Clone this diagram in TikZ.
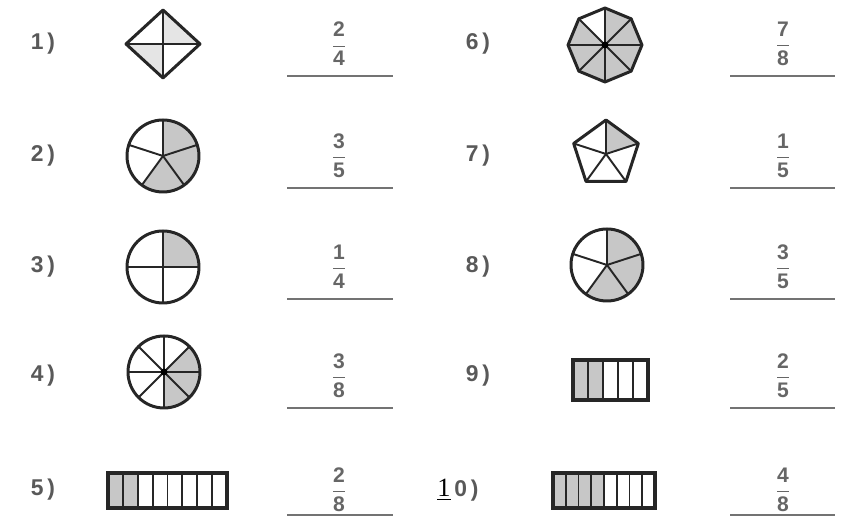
\documentclass[tikz,border=0pt]{standalone}
\usepackage{fontspec}
\setmainfont{Liberation Sans}
\newfontfamily\serifa{Liberation Serif}
\usepackage{amsmath}
\usetikzlibrary{positioning}

\begin{document}
\begin{tikzpicture}[
    x=0.02cm,y=0.02cm,
    rotulo/.style={
    font=\fontsize{13}{15}\selectfont\bfseries,
    text=black!65
    },
    fracao/.style={
    font=\fontsize{12}{14}\selectfont\bfseries,
    text=black!60
    },
    linha/.style={line width=1.4pt,black!55},
    contorno/.style={line width=1.7pt,black!85},
    raio/.style={line width=1.1pt,black!85},
    parte/.style={fill=black!22}
    ]
    
    \useasboundingbox (0,0) rectangle (846,519);
    
    % rotulos
    \node[rotulo] (r1) at (43,475) {1\,)};
    \node[rotulo] (r2) at (43,363) {2\,)};
    \node[rotulo] (r3) at (43,252) {3\,)};
    \node[rotulo] (r4) at (43,143) {4\,)};
    \node[rotulo] (r5) at (43,29) {5\,)};
    \node[rotulo] (r6) at (478,475) {6\,)};
    \node[rotulo] (r7) at (478,363) {7\,)};
    \node[rotulo] (r8) at (478,252) {8\,)};
    \node[rotulo] (r9) at (478,143) {9\,)};
    \node[rotulo] (r10) at (458,29) {{\serifa\mdseries\color{black}\fontsize{15}{17}\selectfont\underline{1}}\,0\,)};
    
    % fracoes
    \node[fracao] (f1) at (339,475) {$\dfrac{\text{2}}{\text{4}}$};
    \node[fracao] (f2) at (339,363) {$\dfrac{\text{3}}{\text{5}}$};
    \node[fracao] (f3) at (339,252) {$\dfrac{\text{1}}{\text{4}}$};
    \node[fracao] (f4) at (339,143) {$\dfrac{\text{3}}{\text{8}}$};
    \node[fracao] (f5) at (339,29) {$\dfrac{\text{2}}{\text{8}}$};
    \node[fracao] (f6) at (783,475) {$\dfrac{\text{7}}{\text{8}}$};
    \node[fracao] (f7) at (783,363) {$\dfrac{\text{1}}{\text{5}}$};
    \node[fracao] (f8) at (783,252) {$\dfrac{\text{3}}{\text{5}}$};
    \node[fracao] (f9) at (783,143) {$\dfrac{\text{2}}{\text{5}}$};
    \node[fracao] (f10) at (783,29) {$\dfrac{\text{4}}{\text{8}}$};
    
    % linhas de resposta
    \foreach \y in {443,331,220,111,4} {
      \draw[linha] (287,\y) -- (393,\y);
      \draw[linha] (730,\y) -- (835,\y);
    }
    
    % 1) losango
    \fill[parte,fill=black!10] (163,475) -- (163,509) -- (200,475) -- cycle;
    \fill[parte,fill=black!10] (163,475) -- (163,441) -- (126,475) -- cycle;
    \draw[raio] (163,509) -- (163,441);
    \draw[raio] (126,475) -- (200,475);
    \draw[contorno,line join=round] (163,509) -- (200,475) -- (163,441) -- (126,475) -- cycle;
    
    % 2) circulo em cinco partes
    \fill[parte] (163,363) -- ++(-54:36) arc[start angle=-54,end angle=90,radius=36] -- cycle;
    \fill[parte] (163,363) -- ++(234:36) arc[start angle=234,end angle=306,radius=36] -- cycle;
    \foreach \a in {18,90,162,234,306}
      \draw[raio] (163,363) -- ++(\a:36);
    \draw[contorno] (163,363) circle[radius=36];
    
    % 3) circulo em quatro partes
    \fill[parte] (163,252) -- ++(0:36) arc[start angle=0,end angle=90,radius=36] -- cycle;
    \foreach \a in {0,90,180,270}
      \draw[raio] (163,252) -- ++(\a:36);
    \draw[contorno] (163,252) circle[radius=36];
    
    % 4) circulo em oito partes
    \fill[parte] (164,147) -- ++(-90:36) arc[start angle=-90,end angle=45,radius=36] -- cycle;
    \foreach \a in {0,45,...,315}
      \draw[raio] (164,147) -- ++(\a:36);
    \draw[contorno] (164,147) circle[radius=36];
    \fill[black] (164,147) circle[radius=3.5];
    
    % 5) retangulo em oito partes
    \fill[parte] (108,11) rectangle (137.75,46);
    \foreach \i in {1,...,7}
      \draw[raio] (108+\i*14.875,11) -- ++(0,35);
    \draw[contorno,line width=2.2pt] (108,11) rectangle (227,46);
    
    % 6) octogono
    \begin{scope}[shift={(605,474)}]
      \fill[parte] (0:37) \foreach \a in {45,90,...,315} { -- (\a:37) } -- cycle;
      \fill[white] (0,0) -- (90:37) -- (135:37) -- cycle;
      \foreach \a in {0,45,...,315}
        \draw[raio] (0,0) -- (\a:37);
      \draw[contorno,line join=round] (0:37) \foreach \a in {45,90,...,315} { -- (\a:37) } -- cycle;
      \fill[black] (0,0) circle[radius=3.5];
    \end{scope}
    
    % 7) pentagono
    \begin{scope}[shift={(606,365)}]
      \fill[parte] (0,0) -- (90:34) -- (18:34) -- cycle;
      \foreach \a in {18,90,162,234,306}
        \draw[raio] (0,0) -- (\a:34);
      \draw[contorno,line join=round] (18:34) -- (90:34) -- (162:34) -- (234:34) -- (306:34) -- cycle;
    \end{scope}
    
    % 8) circulo em cinco partes
    \fill[parte] (607,254) -- ++(-54:36) arc[start angle=-54,end angle=90,radius=36] -- cycle;
    \fill[parte] (607,254) -- ++(234:36) arc[start angle=234,end angle=306,radius=36] -- cycle;
    \foreach \a in {18,90,162,234,306}
      \draw[raio] (607,254) -- ++(\a:36);
    \draw[contorno] (607,254) circle[radius=36];
    
    % 9) retangulo em cinco partes
    \fill[parte] (573,119) rectangle (603,159);
    \foreach \i in {1,...,4}
      \draw[raio] (573+\i*15,119) -- ++(0,40);
    \draw[contorno,line width=2.2pt] (573,119) rectangle (648,159);
    
    % 10) retangulo em oito partes
    \fill[parte] (553,11) rectangle (604,46);
    \foreach \i in {1,...,7}
      \draw[raio] (553+\i*12.75,11) -- ++(0,35);
    \draw[contorno,line width=2.2pt] (553,11) rectangle (655,46);
    
    \end{tikzpicture}
\end{document}
